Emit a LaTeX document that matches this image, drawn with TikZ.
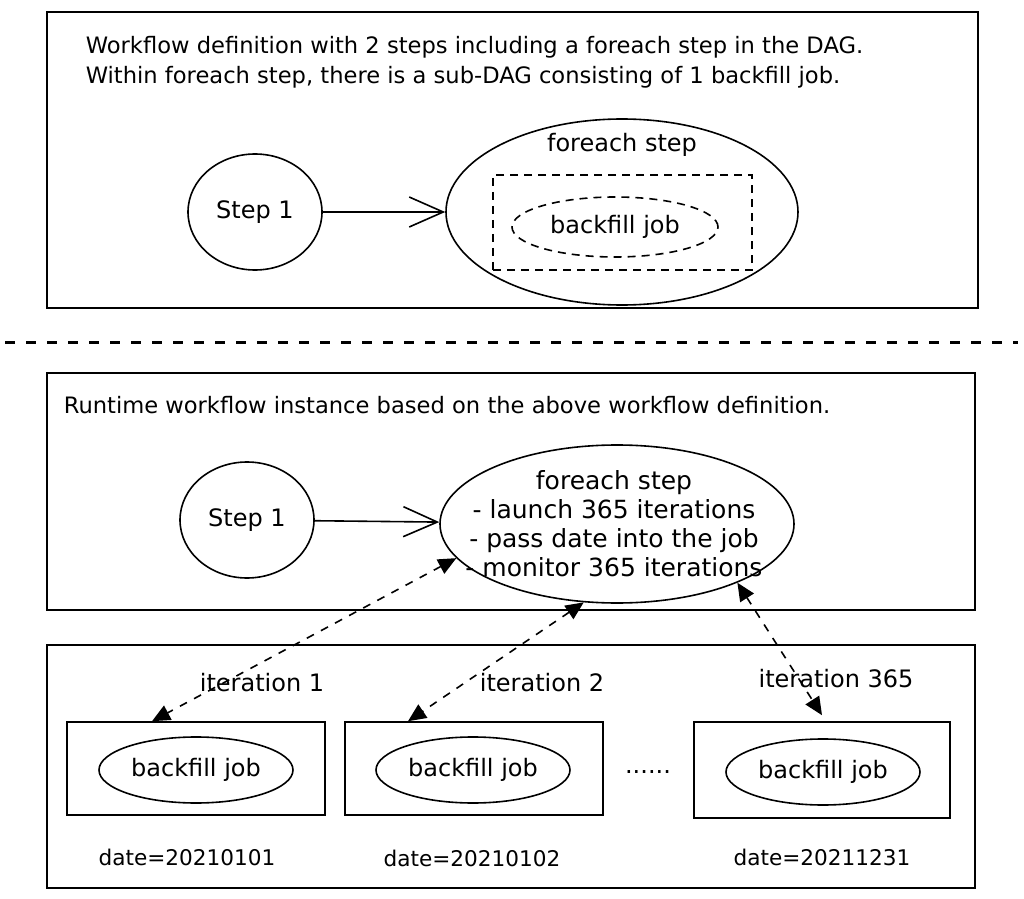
\documentclass[tikz,border=0pt]{standalone}
\usepackage{fontspec}
\setmainfont{DejaVu Sans}
\usetikzlibrary{arrows.meta,shapes.geometric,positioning}

\begin{document}
\begin{tikzpicture}[x=0.5pt,y=-0.5pt,font=\fontsize{12}{15}\selectfont,line width=0.8pt]
\tikzstyle{frame}=[draw,inner sep=0pt]
\tikzstyle{oval}=[draw,ellipse,inner sep=0pt,align=center]
\tikzstyle{subjob}=[oval,dash pattern=on 4pt off 3pt]
\tikzstyle{heading}=[anchor=west,align=left,inner sep=0pt,font=\fontsize{11.3}{15}\selectfont]
\tikzstyle{datelabel}=[font=\fontsize{10.8}{13}\selectfont]
\tikzstyle{flow}=[-{Straight Barb[length=17pt,width=15pt]}]
\tikzstyle{iter}=[{Triangle[length=9pt,width=8pt]}-{Triangle[length=9pt,width=8pt]},dash pattern=on 4pt off 4pt]
\useasboundingbox (0,0) rectangle (1024,899);
% workflow definition
\draw (47,12) rectangle (978,308);
\node[heading] (deftext) at (85,62) {Workflow definition with 2 steps including a foreach step in the DAG.\\Within foreach step, there is a sub-DAG consisting of 1 backfill job.};
\node[oval,minimum width=67pt,minimum height=58pt] (step1) at (255,212) {Step 1};
\node[oval,minimum width=176pt,minimum height=93pt] (foreach1) at (622,212) {};
\node (felabel) at (622,145) {foreach step};
\node[frame,dash pattern=on 4pt off 3pt,minimum width=129.5pt,minimum height=47.5pt] (subdag) at (622.5,222.5) {};
\node[subjob,minimum width=103pt,minimum height=30pt] (job0) at (615,227) {backfill job};
\draw[flow] (step1) -- (foreach1);
% divider
\draw[line width=1.5pt,dash pattern=on 5pt off 5.5pt] (5,342) -- (1018,342);
% runtime instance
\draw (47,373) rectangle (975,610);
\node[heading] (runtext) at (63,405) {Runtime workflow instance based on the above workflow definition.};
\node[oval,minimum width=67pt,minimum height=58pt] (step2) at (247,520) {Step 1};
\node[oval,minimum width=177pt,minimum height=79pt] (foreach2) at (617,524) {};
\node[align=center,inner sep=0pt,font=\fontsize{12.5}{14.5}\selectfont] (fetext) at (614,524) {foreach step\\- launch 365 iterations\\- pass date into the job\\- monitor 365 iterations};
\draw[flow] (step2) -- (foreach2);
% iterations
\draw (47,645) rectangle (975,888);
\node[frame,minimum width=129pt,minimum height=46.5pt] (box1) at (196,768.5) {};
\node[frame,minimum width=129pt,minimum height=46.5pt] (box2) at (474,768.5) {};
\node[frame,minimum width=128pt,minimum height=48pt] (box3) at (822,770) {};
\node[oval,minimum width=97pt,minimum height=33pt] (job1) at (196,770) {backfill job};
\node[oval,minimum width=97pt,minimum height=33pt] (job2) at (473,770) {backfill job};
\node[oval,minimum width=97pt,minimum height=33pt] (job3) at (823,772) {backfill job};
\node (dots) at (648,772) {......};
\node[datelabel] (date1) at (187,857) {date=20210101};
\node[datelabel] (date2) at (472,858) {date=20210102};
\node[datelabel] (date3) at (822,857) {date=20211231};
\node (it1) at (262,683) {iteration 1};
\node (it2) at (542,683) {iteration 2};
\node (it3) at (836,679) {iteration 365};
\draw[iter] (foreach2.192) -- ([xshift=-22pt]box1.north);
\draw[iter] (foreach2.247) -- ([xshift=-33pt]box2.north);
\draw[iter] (foreach2.334) -- ([yshift=3pt]box3.north);
\end{tikzpicture}
\end{document}
